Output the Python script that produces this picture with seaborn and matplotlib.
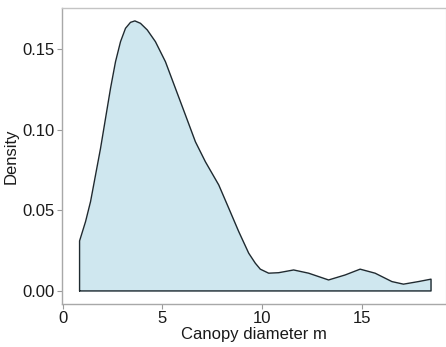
import matplotlib
matplotlib.use("Agg")
import matplotlib.pyplot as plt
import seaborn as sns
import pandas as pd

# Kernel density estimate of canopy diameter (m), sampled along the support
canopy_m = [0.85, 1.15, 1.40, 1.65, 1.90, 2.15, 2.40, 2.65, 2.90, 3.15,
            3.40, 3.62, 3.90, 4.24, 4.65, 5.15, 5.65, 6.15, 6.65, 7.15,
            7.82, 8.32, 8.82, 9.32, 9.65, 9.90, 10.32, 10.82, 11.57, 12.32,
            13.32, 14.15, 14.90, 15.65, 16.49, 17.07, 17.82, 18.45]
density = [0.0310, 0.0430, 0.0554, 0.0719, 0.0884, 0.1070, 0.1256, 0.1421,
           0.1545, 0.1628, 0.1665, 0.1674, 0.1659, 0.1618, 0.1545, 0.1421,
           0.1256, 0.1091, 0.0925, 0.0801, 0.0657, 0.0513, 0.0368, 0.0234,
           0.0172, 0.0135, 0.0110, 0.0113, 0.0130, 0.0110, 0.0068, 0.0099,
           0.0135, 0.0110, 0.0058, 0.0042, 0.0058, 0.0073]

x_ticks = [0, 5, 10, 15]
y_ticks = [0.00, 0.05, 0.10, 0.15]
y_tick_labels = ["0.00", "0.05", "0.10", "0.15"]

sns.set_theme(style="white")
plt.rcParams["font.family"] = ["Liberation Sans", "DejaVu Sans"]

fig = plt.figure(figsize=(4.46, 3.47), dpi=100)
ax = fig.add_axes([62 / 446, 43 / 347, 384 / 446, 296 / 347])

# closed outline: vertical edge at each end plus the baseline
outline = pd.DataFrame({
    "x": [canopy_m[0]] + canopy_m + [canopy_m[-1], canopy_m[0]],
    "y": [0.0] + density + [0.0, 0.0],
})

ax.fill_between(canopy_m, density, 0, color="#cfe7ef", linewidth=0, zorder=1)
sns.lineplot(data=outline, x="x", y="y", sort=False, estimator=None,
             color="#1f2a30", linewidth=1.0, ax=ax, zorder=2)

ax.set_xlim(-0.03, 19.2)
ax.set_ylim(-0.0081, 0.1754)
ax.set_xticks(x_ticks)
ax.set_xticklabels([str(t) for t in x_ticks])
ax.set_yticks(y_ticks)
ax.set_yticklabels(y_tick_labels)

ax.set_xlabel("Canopy diameter m", fontsize=12, color="#1a1a1a", labelpad=1)
ax.set_ylabel("Density", fontsize=12, color="#1a1a1a", labelpad=3)
ax.tick_params(axis="both", which="major", labelsize=12, labelcolor="#1a1a1a",
               length=3.5, width=0.8, color="#9a9a9a", pad=1.5,
               bottom=True, left=True)

for side, col in [("left", "#a8a8a8"), ("bottom", "#a8a8a8"),
                  ("top", "#c4c4c4"), ("right", "#e6e6e6")]:
    ax.spines[side].set_visible(True)
    ax.spines[side].set_color(col)
    ax.spines[side].set_linewidth(1.0)

fig.savefig("out.png", dpi=100)
